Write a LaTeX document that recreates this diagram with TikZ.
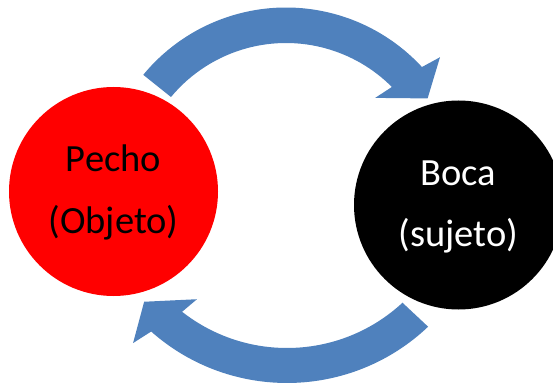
\documentclass[tikz,border=0pt]{standalone}
\usepackage{fontspec}
\setmainfont{Carlito}
\usetikzlibrary{calc}
\definecolor{arrowblue}{HTML}{4F81BD}
\begin{document}
\begin{tikzpicture}[x=1pt,y=1pt,
  bubble/.style={circle, inner sep=0pt, minimum size=209pt, draw=none},
  lbl/.style={anchor=base, inner sep=0pt, font=\fontsize{38.5pt}{46pt}\selectfont},
  cyc/.style={fill=arrowblue, draw=none}]
\useasboundingbox (0,0) rectangle (553,383);
\node[bubble, fill=red] (pecho) at (113.5,191.5) {};
\node[bubble, fill=black] (boca) at (458.5,178) {};
\node[lbl] (pechoA) at ([yshift=19.5pt]pecho.center) {Pecho};
\node[lbl] (pechoB) at ([yshift=-41.5pt]pecho.center) {(Objeto)};
\node[lbl, text=white] (bocaA) at ([yshift=19.3pt]boca.center) {Boca};
\node[lbl, text=white] (bocaB) at ([yshift=-41.7pt]boca.center) {(sujeto)};
\coordinate (tc) at (286,190.5);
\coordinate (bc) at (287,205);
\fill[cyc] ($(tc)+(140.5:185pt)$) arc[start angle=140.5, end angle=42.7, radius=185pt]
  -- ($(tc)+(41.3:205pt)$) -- ($(tc)+(33.6:170pt)$) -- ($(tc)+(46.7:130pt)$) -- ($(tc)+(44.9:149.5pt)$)
  arc[start angle=44.9, end angle=140.3, radius=149.5pt] -- cycle;
\fill[cyc] ($(bc)+(-46.5:205pt)$) arc[start angle=-46.5, end angle=-131.5, radius=205pt]
  -- ($(bc)+(-133:225.7pt)$) -- ($(bc)+(-139.1:189pt)$) -- ($(bc)+(-126.6:151pt)$) -- ($(bc)+(-128.1:170pt)$)
  arc[start angle=-128.1, end angle=-47.2, radius=170pt] -- cycle;
\end{tikzpicture}
\end{document}
